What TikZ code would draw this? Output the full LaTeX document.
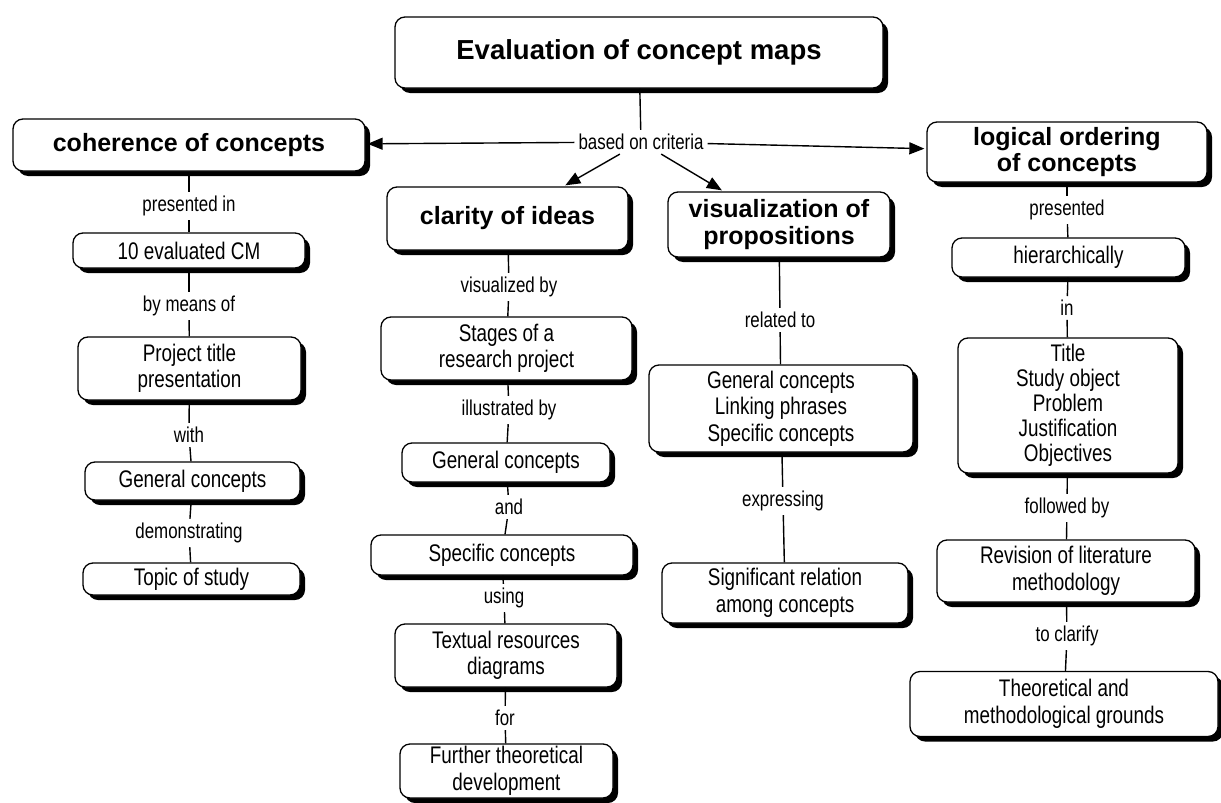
\documentclass[tikz,border=0pt]{standalone}
\usepackage{fontspec}
\setmainfont{Liberation Sans}
\newfontfamily\narrowfont[FakeStretch=0.786]{Liberation Sans}
\usetikzlibrary{shadows,arrows.meta}
\begin{document}
\begin{tikzpicture}[x=1pt,y=-1pt,
 box/.style={draw=black, line width=1.3pt, rounded corners=10pt, fill=white, align=center, inner sep=0pt,
   drop shadow={shadow xshift=5pt, shadow yshift=-5pt, fill=black, opacity=1},
   font=\narrowfont\fontsize{24}{26.5}\selectfont},
 head/.style={box, font=\bfseries\fontsize{25}{26.5}\selectfont},
 lab/.style={inner sep=4pt, font=\narrowfont\fontsize{21.5}{23}\selectfont},
 con/.style={line width=1.4pt},
 arr/.style={con, -{Triangle[length=15pt,width=12pt]}, shorten >=2pt},
]
\useasboundingbox (0,0) rectangle (1221,803);

% top
\node[head, font=\bfseries\fontsize{27.5}{30}\selectfont, minimum width=488pt, minimum height=71pt] (title) at (639,52.5) {Evaluation of concept maps};
\node[lab] (crit) at (641,142) {based on criteria};

% headings
\node[head, minimum width=352pt, minimum height=52pt] (coh) at (189,145) {coherence of concepts};
\node[head, minimum width=241pt, minimum height=63pt] (clar) at (507.5,218.5) {clarity of ideas};
\node[head, minimum width=222pt, minimum height=65pt] (vis) at (779,224.5) {visualization of\\propositions};
\node[head, minimum width=280pt, minimum height=60pt] (logic) at (1067,152) {logical ordering\\of concepts};

% left column
\node[lab] (l1) at (189,206) {presented in};
\node[box, minimum width=232pt, minimum height=35pt] (eval) at (189,250.5) {10 evaluated CM};
\node[lab] (l2) at (189,306) {by means of};
\node[box, minimum width=223pt, minimum height=63pt] (proj) at (189.5,368.5) {Project title\\presentation};
\node[lab] (l3) at (189,435) {with};
\node[box, minimum width=215pt, minimum height=38pt] (gen1) at (192.5,481) {General concepts};
\node[lab] (l4) at (189,533) {demonstrating};
\node[box, minimum width=217pt, minimum height=32pt] (topic) at (191.5,579) {Topic of study};

% middle column
\node[lab] (m1) at (509,287) {visualized by};
\node[box, minimum width=251pt, minimum height=63pt] (stages) at (506.5,348.5) {Stages of a\\research project};
\node[lab] (m2) at (509,410) {illustrated by};
\node[box, minimum width=208pt, minimum height=39pt] (gen2) at (506,462.5) {General concepts};
\node[lab] (m3) at (509,507) {and};
\node[box, minimum width=262pt, minimum height=40pt] (spec) at (502,555) {Specific concepts};
\node[lab] (m4) at (504,598) {using};
\node[box, minimum width=222pt, minimum height=63pt] (textual) at (506,655.5) {Textual resources\\diagrams};
\node[lab] (m5) at (505,718) {for};
\node[box, minimum width=213pt, minimum height=54pt] (further) at (506.5,771) {Further theoretical\\development};

% visualization column
\node[lab] (v1) at (780,320) {related to};
\node[box, minimum width=264pt, minimum height=87pt] (gls) at (781,408.5) {General concepts\\Linking phrases\\Specific concepts};
\node[lab] (v2) at (783,501) {expressing};
\node[box, minimum width=246pt, minimum height=60pt] (sig) at (785,593) {Significant relation\\among concepts};

% right column
\node[lab] (r1) at (1067,210) {presented};
\node[box, minimum width=233pt, minimum height=39pt] (hier) at (1068.5,257.5) {hierarchically};
\node[lab] (r2) at (1067,308) {in};
\node[box, font=\narrowfont\fontsize{24}{25}\selectfont, minimum width=220pt, minimum height=135pt] (tbox) at (1068,405.5) {Title\\Study object\\Problem\\Justification\\Objectives};
\node[lab] (r3) at (1067,508) {followed by};
\node[box, minimum width=258pt, minimum height=62pt] (rev) at (1066,571) {Revision of literature\\methodology};
\node[lab] (r4) at (1067,636) {to clarify};
\node[box, minimum width=308pt, minimum height=65pt] (theo) at (1064,704) {Theoretical and\\methodological grounds};

% connectors
\draw[con] (title) -- (crit);
\draw[arr] (crit) -- (coh);
\draw[arr] (crit) -- (clar);
\draw[arr] (crit) -- (vis);
\draw[arr] (crit) -- (logic);

\draw[con] (coh) -- (l1); \draw[con] (l1) -- (eval);
\draw[con] (eval) -- (l2); \draw[con] (l2) -- (proj);
\draw[con] (proj) -- (l3); \draw[con] (l3) -- (gen1);
\draw[con] (gen1) -- (l4); \draw[con] (l4) -- (topic);

\draw[con] (clar) -- (m1); \draw[con] (m1) -- (stages);
\draw[con] (stages) -- (m2); \draw[con] (m2) -- (gen2);
\draw[con] (gen2) -- (m3); \draw[con] (m3) -- (spec);
\draw[con] (spec) -- (m4); \draw[con] (m4) -- (textual);
\draw[con] (textual) -- (m5); \draw[con] (m5) -- (further);

\draw[con] (vis) -- (v1); \draw[con] (v1) -- (gls);
\draw[con] (gls) -- (v2); \draw[con] (v2) -- (sig);

\draw[con] (logic) -- (r1); \draw[con] (r1) -- (hier);
\draw[con] (hier) -- (r2); \draw[con] (r2) -- (tbox);
\draw[con] (tbox) -- (r3); \draw[con] (r3) -- (rev);
\draw[con] (rev) -- (r4); \draw[con] (r4) -- (theo);
\end{tikzpicture}
\end{document}
